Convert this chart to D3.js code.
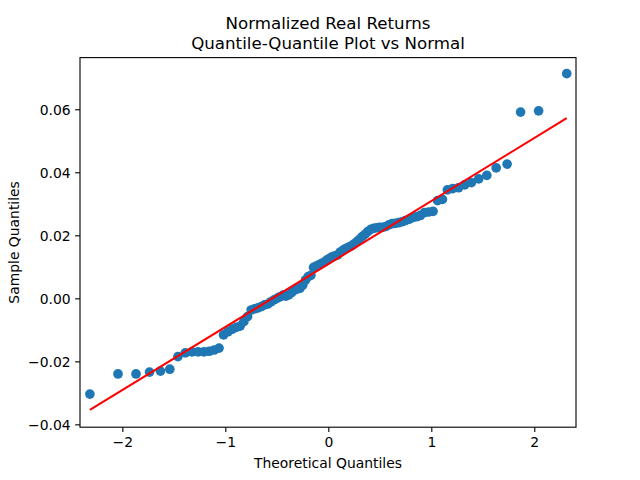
<!DOCTYPE html>
<html>
<head>
<meta charset="utf-8">
<script src="https://cdn.jsdelivr.net/npm/d3@7"></script>
<style>
  html, body { margin: 0; padding: 0; background: #fff; }
  svg { display: block; font-family: "DejaVu Sans", sans-serif; }
</style>
</head>
<body>
<svg id="chart" width="640" height="480"></svg>
<script>
// Theoretical normal quantiles (x) and sorted sample quantiles (y)
const theoretical = [
  -2.315, -2.042, -1.867, -1.736, -1.630, -1.539, -1.460, -1.389, -1.324, -1.264,
  -1.208, -1.156, -1.108, -1.061, -1.017, -0.974, -0.934, -0.894, -0.856, -0.820,
  -0.784, -0.749, -0.715, -0.682, -0.650, -0.619, -0.588, -0.557, -0.527, -0.498,
  -0.469, -0.440, -0.412, -0.384, -0.356, -0.329, -0.302, -0.275, -0.248, -0.221,
  -0.195, -0.169, -0.143, -0.117, -0.091, -0.065, -0.039, -0.013,
   0.013,  0.039,  0.065,  0.091,  0.117,  0.143,  0.169,  0.195,  0.221,  0.248,
   0.275,  0.302,  0.329,  0.356,  0.384,  0.412,  0.440,  0.469,  0.498,  0.527,
   0.557,  0.588,  0.619,  0.650,  0.682,  0.715,  0.749,  0.784,  0.820,  0.856,
   0.894,  0.934,  0.974,  1.017,  1.061,  1.108,  1.156,  1.208,  1.264,  1.324,
   1.389,  1.460,  1.539,  1.630,  1.736,  1.867,  2.042,  2.315
];
const sample = [
  -0.0304, -0.0240, -0.0240, -0.0234, -0.0231, -0.0225, -0.0185, -0.0173, -0.0170, -0.0170,
  -0.0170, -0.0168, -0.0164, -0.0158, -0.0116, -0.0106, -0.0098, -0.0092, -0.0088, -0.0074,
  -0.0058, -0.0037, -0.0033, -0.0030, -0.0026, -0.0021, -0.0018, -0.0011, -0.0005,  0.0000,
   0.0005,  0.0010,  0.0007,  0.0011,  0.0018,  0.0026,  0.0029,  0.0032,  0.0042,  0.0058,
   0.0069,  0.0073,  0.0098,  0.0102,  0.0106,  0.0111,  0.0115,  0.0122,
   0.0127,  0.0132,  0.0135,  0.0138,  0.0147,  0.0153,  0.0158,  0.0162,  0.0166,  0.0172,
   0.0179,  0.0187,  0.0196,  0.0203,  0.0212,  0.0219,  0.0222,  0.0224,  0.0225,  0.0225,
   0.0228,  0.0233,  0.0237,  0.0238,  0.0240,  0.0243,  0.0247,  0.0251,  0.0256,  0.0259,
   0.0263,  0.0272,  0.0274,  0.0276,  0.0310,  0.0314,  0.0344,  0.0348,  0.0351,  0.0360,
   0.0367,  0.0379,  0.0390,  0.0414,  0.0426,  0.0591,  0.0595,  0.0713
];
// Reference line (standardized): y = intercept + slope * x
const lineIntercept = 0.01087;
const lineSlope = 0.0200;

const xTicks = [-2, -1, 0, 1, 2];
const yTicks = [-0.04, -0.02, 0.00, 0.02, 0.04, 0.06];

const titleLines = ["Normalized Real Returns", "Quantile-Quantile Plot vs Normal"];
const xLabel = "Theoretical Quantiles";
const yLabel = "Sample Quantiles";

// Layout
const W = 640, H = 480;
const L = 80, R = 576, T = 57.6, B = 427.2;

const svg = d3.select("#chart");

const x = d3.scaleLinear().domain([-2.411, 2.405]).range([L, R]);
const y = d3.scaleLinear().domain([-0.0409, 0.0764]).range([B, T]);

const minus = s => s.replace(/^-/, "\u2212");

// Points
const pts = theoretical.map((t, i) => ({ x: t, y: sample[i] }));
svg.append("g")
  .selectAll("circle")
  .data(pts)
  .enter().append("circle")
  .attr("cx", d => x(d.x))
  .attr("cy", d => y(d.y))
  .attr("r", 4.85)
  .attr("fill", "#1f77b4");

// Reference line
const x0 = d3.min(theoretical), x1 = d3.max(theoretical);
const lineData = [x0, x1].map(v => ({ x: v, y: lineIntercept + lineSlope * v }));
svg.append("path")
  .datum(lineData)
  .attr("d", d3.line().x(d => x(d.x)).y(d => y(d.y)))
  .attr("fill", "none")
  .attr("stroke", "#ff0000")
  .attr("stroke-width", 2.08);

// Axes
const xAxis = d3.axisBottom(x).tickValues(xTicks)
  .tickSize(4.86).tickPadding(4.5)
  .tickFormat(d => minus(d3.format("d")(d)));
const yAxis = d3.axisLeft(y).tickValues(yTicks)
  .tickSize(4.86).tickPadding(4.5)
  .tickFormat(d => minus(d3.format(".2f")(d)));

const gx = svg.append("g").attr("transform", `translate(0,${B})`).call(xAxis);
const gy = svg.append("g").attr("transform", `translate(${L},0)`).call(yAxis);
[gx, gy].forEach(g => {
  g.select(".domain").remove();
  g.selectAll(".tick line").attr("stroke", "#000").attr("stroke-width", 1.11);
  g.selectAll(".tick text")
    .attr("fill", "#000")
    .style("font-family", "'DejaVu Sans', sans-serif")
    .style("font-size", "13.9px");
});
gx.selectAll(".tick text").attr("dy", "0.76em");
gy.selectAll(".tick text").attr("dy", "0.36em");

// Frame (spines)
svg.append("rect")
  .attr("x", L).attr("y", T)
  .attr("width", R - L).attr("height", B - T)
  .attr("fill", "none")
  .attr("stroke", "#000")
  .attr("stroke-width", 1.11);

// Title
const cx = (L + R) / 2;
svg.append("text")
  .attr("x", cx).attr("y", 29.3)
  .attr("text-anchor", "middle")
  .style("font-size", "16.67px")
  .attr("fill", "#000")
  .text(titleLines[0]);
svg.append("text")
  .attr("x", cx).attr("y", 49.3)
  .attr("text-anchor", "middle")
  .style("font-size", "16.67px")
  .attr("fill", "#000")
  .text(titleLines[1]);

// Axis labels
svg.append("text")
  .attr("x", cx).attr("y", 468)
  .attr("text-anchor", "middle")
  .style("font-size", "13.9px")
  .attr("fill", "#000")
  .text(xLabel);
svg.append("text")
  .attr("transform", `translate(18.5,${(T + B) / 2}) rotate(-90)`)
  .attr("text-anchor", "middle")
  .style("font-size", "13.9px")
  .attr("fill", "#000")
  .text(yLabel);
</script>
</body>
</html>
